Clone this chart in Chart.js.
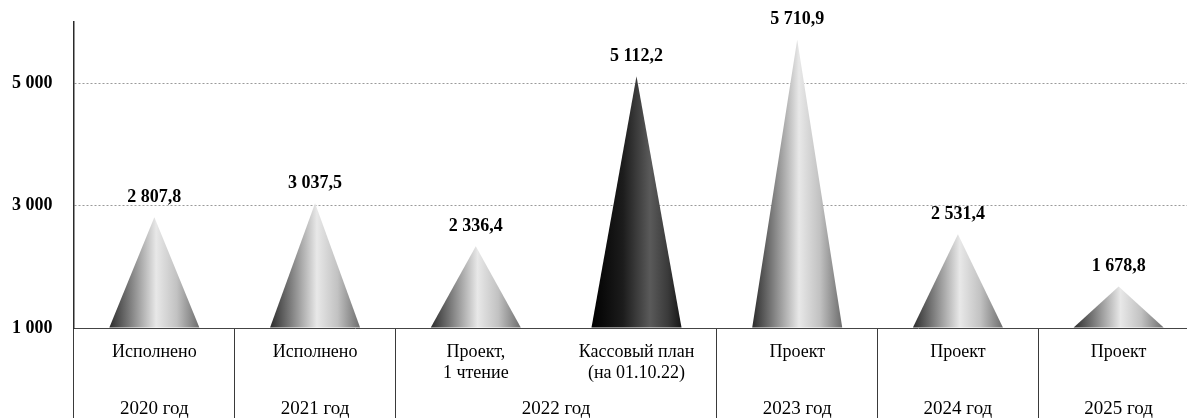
<!DOCTYPE html>
<html lang="ru">
<head>
<meta charset="utf-8">
<title>Расходы по годам</title>
<script src="https://cdn.jsdelivr.net/npm/chart.js@4.4.1/dist/chart.umd.min.js"></script>
<style>
  html,body{margin:0;padding:0;background:#fff;overflow:hidden;}
  #wrap{width:1199px;height:418px;}
</style>
</head>
<body>
<div id="wrap"><canvas id="chart" width="1199" height="418"></canvas></div>
<script>
// data
const categories = [['Исполнено'], ['Исполнено'], ['Проект,', '1 чтение'], ['Кассовый план', '(на 01.10.22)'], ['Проект'], ['Проект'], ['Проект']];
const values = [2807.8, 3037.5, 2336.4, 5112.2, 5710.9, 2531.4, 1678.8];
const years = ['2020 год', '2021 год', '2022 год', '2023 год', '2024 год', '2025 год'];
const yearSpans = [[0, 0], [1, 1], [2, 3], [4, 4], [5, 5], [6, 6]];
const yTicks = [1000, 3000, 5000];
const darkIndex = 3;

const SERIF = '"Liberation Serif", "Times New Roman", Times, serif';

function fmtInt(v){
  return String(Math.round(v)).replace(/\B(?=(\d{3})+(?!\d))/g, ' ');
}
function fmtVal(v){
  const [a, b] = Number(v).toFixed(1).split('.');
  return `${fmtInt(Number(a))},${b}`;
}

// cones drawn over the invisible bar elements, values above the tips
const conePlugin = {
  id: 'cones',
  beforeDatasetsDraw(chart){
    const ctx = chart.ctx;
    const meta = chart.getDatasetMeta(0);
    meta.data.forEach((bar, i) => {
      const {x, y, base, width} = bar.getProps(['x', 'y', 'base', 'width'], true);
      const l = x - width/2, r = x + width/2;
      const g = ctx.createLinearGradient(l, 0, r, 0);
      if (i === darkIndex) {
        g.addColorStop(0, '#000');
        g.addColorStop(0.35, '#1c1c1c');
        g.addColorStop(0.65, '#5a5a5a');
        g.addColorStop(0.85, '#3a3a3a');
        g.addColorStop(1, '#151515');
      } else {
        g.addColorStop(0, '#2c2c2c');
        g.addColorStop(0.22, '#7a7a7a');
        g.addColorStop(0.52, '#e8e8e8');
        g.addColorStop(0.75, '#c2c2c2');
        g.addColorStop(1, '#6c6c6c');
      }
      ctx.save();
      ctx.beginPath();
      ctx.moveTo(l, base);
      ctx.lineTo(x, y);
      ctx.lineTo(r, base);
      ctx.closePath();
      ctx.fillStyle = g;
      ctx.fill();
      ctx.restore();

      ctx.save();
      ctx.font = `bold 18px ${SERIF}`;
      ctx.fillStyle = '#000';
      ctx.textAlign = 'center';
      ctx.textBaseline = 'bottom';
      ctx.fillText(fmtVal(values[i]), x, y - 11);
      ctx.restore();
    });
  },
  afterDraw(chart){
    const ctx = chart.ctx;
    const xs = chart.scales.x;
    ctx.save();
    ctx.font = `19px ${SERIF}`;
    ctx.fillStyle = '#000';
    ctx.textAlign = 'center';
    ctx.textBaseline = 'middle';
    years.forEach((t, i) => {
      const [a, b] = yearSpans[i];
      const cx = (xs.getPixelForTick(a) + xs.getPixelForTick(b)) / 2;
      ctx.fillText(t, cx, 409);
    });
    ctx.restore();
  }
};

new Chart(document.getElementById('chart'), {
  type: 'bar',
  data: {
    labels: categories,
    datasets: [{
      data: values,
      base: 1000,
      backgroundColor: 'rgba(0,0,0,0)',
      borderWidth: 0,
      barPercentage: 0.56,
      categoryPercentage: 1
    }]
  },
  options: {
    responsive: false,
    animation: false,
    layout: {padding: {top: 22, left: 12, right: 0, bottom: 0}},
    plugins: {legend: {display: false}, tooltip: {enabled: false}},
    scales: {
      x: {
        grid: {
          offset: true,
          drawOnChartArea: false,
          drawTicks: true,
          tickLength: 90,
          tickColor: ctx => ctx.index === 3 ? 'rgba(0,0,0,0)' : '#3a3a3a',
          tickWidth: 1
        },
        border: {display: true, color: '#444', width: 1},
        ticks: {
          padding: -76,
          autoSkip: false,
          maxRotation: 0,
          color: '#000',
          font: {family: SERIF, size: 18, lineHeight: 1.15}
        },
        afterFit: s => { s.height = 90; }
      },
      y: {
        min: 1000,
        max: 6000,
        afterBuildTicks: s => { s.ticks = yTicks.map(v => ({value: v})); },
        grid: {
          color: ctx => ctx.tick && ctx.tick.value === 1000 ? 'rgba(0,0,0,0)' : '#9a9a9a',
          drawTicks: false,
          lineWidth: 1
        },
        border: {display: true, color: '#2a2a2a', width: 1.5, dash: [2, 2]},
        ticks: {
          padding: 0,
          crossAlign: 'far',
          color: '#000',
          font: {family: SERIF, size: 18, weight: 'bold'},
          callback: v => fmtInt(v)
        },
        afterFit: s => { s.width = 62; }
      }
    }
  },
  plugins: [conePlugin]
});
</script>
</body>
</html>
